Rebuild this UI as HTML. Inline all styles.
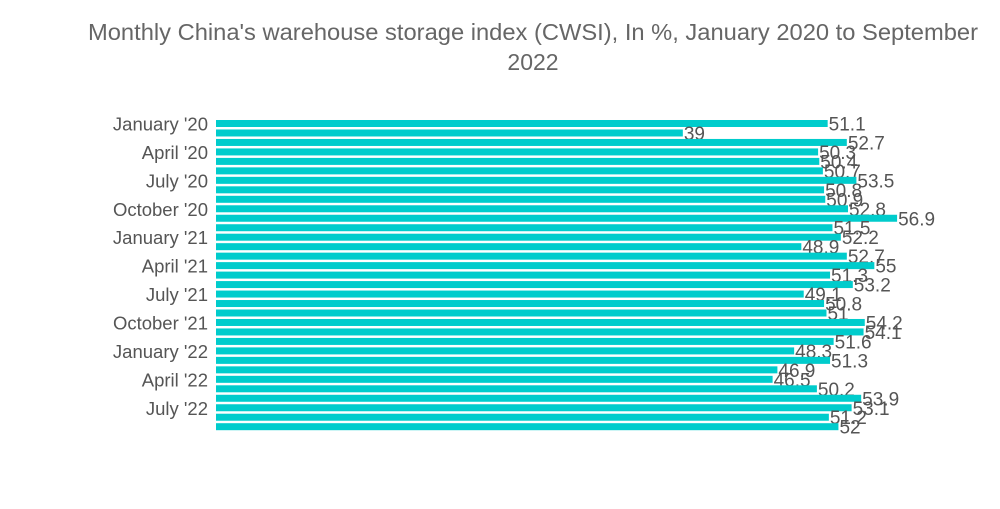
<!DOCTYPE html>
<html><head><meta charset="utf-8"><style>
body{margin:0;background:#fff;width:1000px;height:504px;overflow:hidden;font-family:"Liberation Sans",sans-serif}
</style></head><body>
<svg width="1000" height="504">
<text x="533" y="40" text-anchor="middle" font-size="23" fill="#666" textLength="890" lengthAdjust="spacingAndGlyphs">Monthly China's warehouse storage index (CWSI), In %, January 2020 to September</text>
<text x="533" y="70" text-anchor="middle" font-size="23" fill="#666">2022</text>
<g id="bars"></g>
</svg>
<script>
const categories=["January '20","February '20","March '20","April '20","May '20","June '20","July '20","August '20","September '20","October '20","November '20","December '20","January '21","February '21","March '21","April '21","May '21","June '21","July '21","August '21","September '21","October '21","November '21","December '21","January '22","February '22","March '22","April '22","May '22","June '22","July '22","August '22","September '22"];
const values=[51.1,39,52.7,50.3,50.4,50.7,53.5,50.8,50.9,52.8,56.9,51.5,52.2,48.9,52.7,55,51.3,53.2,49.1,50.8,51,54.2,54.1,51.6,48.3,51.3,46.9,46.5,50.2,53.9,53.1,51.2,52];
const valueLabels=values.map(String);
const NS="http://www.w3.org/2000/svg";
const g=document.getElementById('bars');
const x0=216,k=11.97,y0=123.5,step=9.475,bh=7;
const xs=v=>x0+v*k, ys=i=>y0+i*step;
values.forEach((v,i)=>{
  const r=document.createElementNS(NS,'rect');
  r.setAttribute('x',x0);r.setAttribute('y',ys(i)-bh/2);
  r.setAttribute('width',xs(v)-x0);r.setAttribute('height',bh);
  r.setAttribute('fill','#00cccc');
  
  
  g.appendChild(r);
  const t=document.createElementNS(NS,'text');
  t.setAttribute('x',xs(v)+1);t.setAttribute('y',ys(i)+7);
  t.setAttribute('font-size','19');t.setAttribute('fill','#555');
  t.textContent=valueLabels[i];
  
  
  g.appendChild(t);
  if(i%3===0){
    const c=document.createElementNS(NS,'text');
    c.setAttribute('x',208);c.setAttribute('y',ys(i)+7);
    c.setAttribute('font-size','18.5');c.setAttribute('fill','#555');
    c.setAttribute('text-anchor','end');
    c.textContent=categories[i];
    
    
    g.appendChild(c);
  }
});
</script>
</body></html>
